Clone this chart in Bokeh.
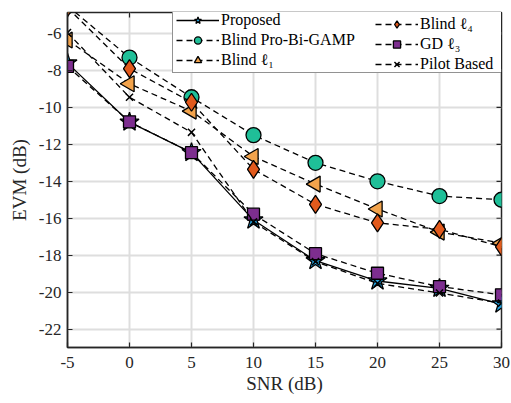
from bokeh.plotting import figure
from bokeh.models import Range1d, Legend, LegendItem, FixedTicker
from bokeh.embed import file_html
from bokeh.resources import INLINE

snr = [-5, 0, 5, 10, 15, 20, 25, 30]
proposed = [-7.6, -10.8, -12.45, -16.1, -18.3, -19.4, -19.8, -20.65]
pro_bi_gamp = [-4.5, -7.3, -9.45, -11.5, -13.0, -14.0, -14.8, -15.0]
blind_l1 = [-6.35, -8.72, -10.2, -12.66, -14.15, -15.5, -16.75, -17.35]
blind_l4 = [-4.6, -7.9, -9.72, -13.35, -15.25, -16.25, -16.6, -17.55]
gd_l3 = [-7.78, -10.78, -12.45, -15.78, -17.92, -18.98, -19.7, -20.15]
pilot = [-5.95, -9.45, -11.35, -16.2, -18.35, -19.53, -20.05, -20.6]

labels = ["Proposed", "Blind Pro-Bi-GAMP", "Blind \u2113\u2081",
          "Blind \u2113\u2084", "GD \u2113\u2083", "Pilot Based"]
x_ticks = [-5, 0, 5, 10, 15, 20, 25, 30]
y_ticks = [-22, -20, -18, -16, -14, -12, -10, -8, -6]
x_tick_labels = ["-5", "0", "5", "10", "15", "20", "25", "30"]
y_tick_labels = ["-22", "-20", "-18", "-16", "-14", "-12", "-10", "-8", "-6"]

X_MIN, X_MAX = -5, 30
Y_MIN, Y_MAX = -23, -4.86

FONT = "Liberation Serif"
AX = "#262626"

p = figure(width=511, height=403, output_backend="svg", toolbar_location=None,
           x_range=Range1d(X_MIN, X_MAX), y_range=Range1d(Y_MIN, Y_MAX),
           min_border_left=67, min_border_right=10, min_border_top=12,
           min_border_bottom=56)
p.outline_line_color = AX
p.outline_line_width = 1.5
p.background_fill_color = "white"
p.border_fill_color = "white"

for ax in (p.xaxis[0], p.yaxis[0]):
    ax.major_tick_in = 5
    ax.major_tick_out = 0
    ax.minor_tick_in = 0
    ax.minor_tick_out = 0
    ax.axis_line_color = AX
    ax.axis_line_width = 1.5
    ax.major_tick_line_color = AX
    ax.major_tick_line_width = 1.2
    ax.major_label_text_font = FONT
    ax.major_label_text_font_size = "17px"
    ax.major_label_text_color = AX
    ax.axis_label_text_font = FONT
    ax.axis_label_text_font_size = "19px"
    ax.axis_label_text_font_style = "normal"
    ax.axis_label_text_color = AX

p.xaxis[0].ticker = FixedTicker(ticks=x_ticks)
p.yaxis[0].ticker = FixedTicker(ticks=y_ticks)
p.xaxis[0].major_label_overrides = dict(zip(x_ticks, x_tick_labels))
p.yaxis[0].major_label_overrides = dict(zip(y_ticks, y_tick_labels))
p.xaxis[0].axis_label = "SNR (dB)"
p.yaxis[0].axis_label = "EVM (dB)"
p.xaxis[0].axis_label_standoff = 2
p.yaxis[0].axis_label_standoff = 6
p.xaxis[0].major_label_standoff = 9
p.yaxis[0].major_label_standoff = 6

p.xgrid.grid_line_color = "#dedede"
p.ygrid.grid_line_color = "#dedede"
p.xgrid.grid_line_width = 2
p.ygrid.grid_line_width = 2

# inward tick marks on the right and top edges (half of each dash is clipped)
p.scatter([X_MAX] * len(y_ticks), y_ticks, marker="dash", size=10,
          line_color=AX, line_width=1.2)
p.scatter(x_ticks, [Y_MAX] * len(x_ticks), marker="dash", angle=1.5708, size=10,
          line_color=AX, line_width=1.2)

series = [
    (proposed, "solid", "star", "#22a3e0", 20),
    (pro_bi_gamp, "6 4", "circle", "#1fbf98", 15),
    (blind_l1, "6 4", "triangle", "#f2a34c", 16),
    (blind_l4, "6 4", "diamond", "#e25a1c", 18),
    (gd_l3, "6 4", "square", "#7d2e8f", 12),
    (pilot, "6 4", "x", "#000000", 10),
]

items = []
for (ys, dash, marker, color, size), lab in zip(series, labels):
    ln = p.line(snr, ys, line_color="black", line_width=1.3, line_dash=dash)
    kw = dict(marker=marker, size=size, fill_color=color, line_color="black", line_width=1.3)
    if marker == "triangle":
        kw["angle"] = 1.5708
    if marker == "x":
        kw["line_width"] = 1.5
    sc = p.scatter(snr, ys, **kw)
    items.append(LegendItem(label=lab, renderers=[ln, sc]))

common = dict(orientation="vertical", label_text_font=FONT, label_text_font_size="16px",
              label_text_color="black", glyph_width=43, glyph_height=18,
              label_height=18, spacing=2, padding=3, margin=0, label_standoff=2)
legend_a = Legend(items=items[:3], location=(105, 274), label_width=277,
                  border_line_color=AX, border_line_width=1.5,
                  background_fill_color="white", background_fill_alpha=1, **common)
legend_b = Legend(items=items[3:], location=(308, 274), border_line_color=None,
                  background_fill_alpha=0, **common)
p.add_layout(legend_a, "center")
p.add_layout(legend_b, "center")

open("out.html", "w").write(file_html(p, INLINE))
